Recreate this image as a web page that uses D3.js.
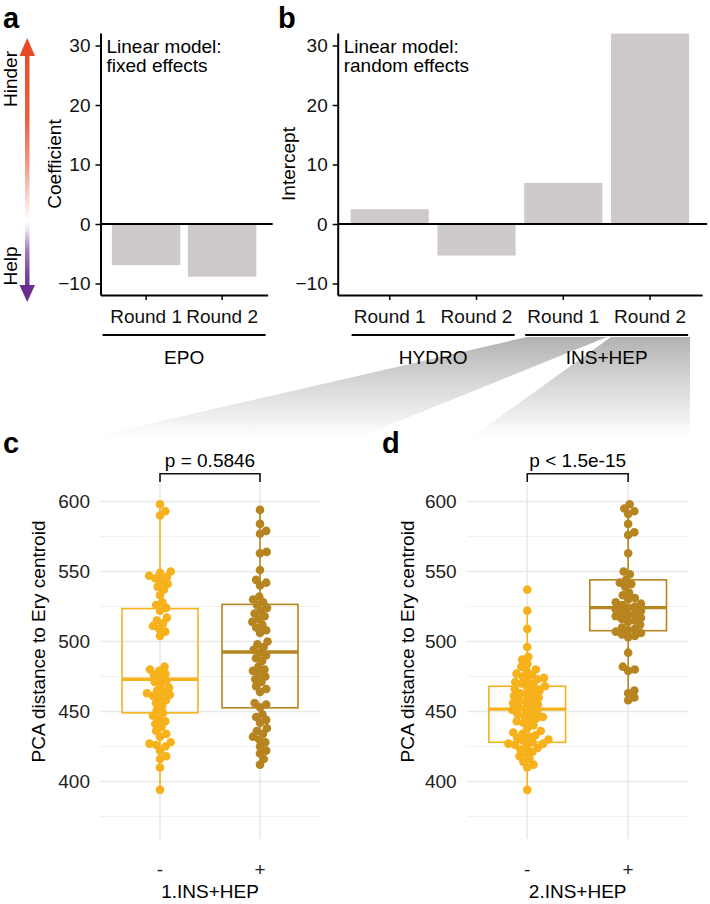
<!DOCTYPE html>
<html><head><meta charset="utf-8">
<script src="https://cdn.jsdelivr.net/npm/d3@7"></script>
<style>body{margin:0;background:#fff}svg{display:block}</style>
</head><body>
<script>
// ---------- DATA ----------
const aGroup = "EPO";
const aRounds = ["Round 1", "Round 2"];
const aValues = [-6.9, -8.85];

const bGroups = ["HYDRO", "HYDRO", "INS+HEP", "INS+HEP"];
const bRounds = ["Round 1", "Round 2", "Round 1", "Round 2"];
const bValues = [2.5, -5.3, 6.9, 32.0];

const barTicks = [-10, 0, 10, 20, 30];

const groupLevels = ["-", "+"];
const cMinus = [598,593,590,550,549,547,546,545,543,541,539,537,533,528,526,524,522,517,515,513,511,509,507,504,482,480,479,477,476,474,472,471,469,467,465,464,463,462,461,460,458,456,454,451,449,447,445,443,441,439,436,434,432,428,427,426,425,422,418,416,410,394];
const cPlus = [594,584,579,577,564,563,551,544,542,540,532,530,528,526,524,522,520,518,516,514,512,510,508,506,500,498,496,494,492,490,488,486,482,480,479,477,475,473,471,468,466,464,456,455,453,448,446,444,442,438,436,434,432,430,428,425,422,420,416,412];
const dMinus = [537,522,509,496,489,487,484,482,480,479,477,476,475,474,473,472,471,470,469,468,467,466,465,464,463,462,461,460,459,458,457,456,455,454,453,452,451,450,449,448,447,446,445,444,443,442,440,438,436,435,434,433,432,431,430,429,428,427,427,426,425,424,423,421,420,418,416,414,412,410,394];
const dPlus = [598,595,593,591,584,578,576,563,550,548,544,542,541,539,535,533,531,530,528,527,526,525,524,523,522,521,520,519,518,517,516,515,514,512,510,509,508,507,506,505,504,503,492,482,480,479,465,463,460,458];
// box stats: [whiskerLow, q1, median, q3, whiskerHigh]
const cBoxMinus = [394, 449, 473, 523.5, 598];
const cBoxPlus  = [412, 452.6, 492.5, 526.5, 594];
const dBoxMinus = [394, 428, 451.7, 468, 522];
const dBoxPlus  = [458, 507.7, 524.2, 544, 598];
const pcaMajor = [400, 450, 500, 550, 600];
const pcaMinor = [375, 425, 475, 525, 575];
const cPText = "p = 0.5846";
const dPText = "p < 1.5e-15";

// ---------- SETUP ----------
const FONT = "'Liberation Sans', Arial, Helvetica, sans-serif";
const FS = 19;
const colMinus = "#F6B11B", colPlus = "#B6851F";
const barCol = "#CDCAC9";

const svg = d3.select("body").append("svg").attr("width", 710).attr("height", 904)
  .style("font-family", FONT);
const defs = svg.append("defs");

const wg = defs.append("linearGradient").attr("id", "wedge").attr("gradientUnits", "userSpaceOnUse")
  .attr("x1", 0).attr("y1", 337).attr("x2", 0).attr("y2", 445);
wg.append("stop").attr("offset", 0).attr("stop-color", "#b2b2b2");
wg.append("stop").attr("offset", 0.45).attr("stop-color", "#d9d9d9");
wg.append("stop").attr("offset", 0.8).attr("stop-color", "#f4f4f4");
wg.append("stop").attr("offset", 1).attr("stop-color", "#ffffff").attr("stop-opacity", 0);

const ag = defs.append("linearGradient").attr("id", "arrowg").attr("gradientUnits", "userSpaceOnUse")
  .attr("x1", 0).attr("y1", 38).attr("x2", 0).attr("y2", 302);
[[0, "#E64A27"], [0.3, "#EA5F3E"], [0.5, "#F1A28F"], [0.64, "#FBE6E1"], [0.69, "#ffffff"], [0.72, "#F2ECF6"], [0.8, "#A57FC1"], [0.9, "#7A3F9C"], [1, "#6A2D8E"]]
  .forEach(([o, c]) => ag.append("stop").attr("offset", o).attr("stop-color", c));

const wedges = [
  [[527, 337], [607, 337], [320, 453], [100, 435]],
  [[611, 337], [690, 337], [690, 453], [466, 441]]
];
svg.append("g").selectAll("path").data(wedges).join("path")
  .attr("d", d => "M" + d.map(p => p.join(",")).join("L") + "Z")
  .attr("fill", "url(#wedge)");

// ---------- LEFT ARROW ----------
const arrow = svg.append("g");
arrow.append("rect").attr("x", 25).attr("y", 50).attr("width", 4.5).attr("height", 240).attr("fill", "url(#arrowg)");
arrow.append("path").attr("d", "M27.2,38 L19.5,56 L35,56 Z").attr("fill", "#E64A27");
arrow.append("path").attr("d", "M27.2,302 L19.5,285 L35,285 Z").attr("fill", "#6A2D8E");
svg.append("text").attr("transform", "translate(16.6,79) rotate(-90)").attr("text-anchor", "middle")
  .attr("font-size", FS).text("Hinder");
svg.append("text").attr("transform", "translate(16.6,266) rotate(-90)").attr("text-anchor", "middle")
  .attr("font-size", FS).text("Help");

// ---------- BAR PANELS ----------
const yBar = d3.scaleLinear().domain([-11.93, 32.1]).range([295, 33]);

function barPanel(axisX, xEnd, keys, labels, values, title1, title2, ylab, ylabX) {
  const g = svg.append("g");
  const x = d3.scaleBand().domain(keys).range([axisX, xEnd]).paddingInner(0.1).paddingOuter(0.15);
  g.selectAll("rect").data(keys).join("rect")
    .attr("x", k => x(k)).attr("width", x.bandwidth())
    .attr("y", (k, i) => yBar(Math.max(0, values[i])))
    .attr("height", (k, i) => Math.abs(yBar(values[i]) - yBar(0)))
    .attr("fill", barCol);
  g.append("line").attr("x1", axisX).attr("x2", xEnd + 5).attr("y1", yBar(0)).attr("y2", yBar(0))
    .attr("stroke", "#000").attr("stroke-width", 2);
  const ya = g.append("g").attr("transform", `translate(${axisX},0)`)
    .call(d3.axisLeft(yBar).tickValues(barTicks).tickSize(5).tickPadding(5).tickSizeOuter(0)
      .tickFormat(d => d < 0 ? "\u2212" + Math.abs(d) : d));
  const xa = g.append("g").attr("transform", `translate(0,295)`)
    .call(d3.axisBottom(x).tickSize(5).tickPadding(10).tickSizeOuter(0).tickFormat((k, i) => labels[i]));
  [ya, xa].forEach(a => {
    a.select(".domain").attr("stroke-width", 2);
    a.selectAll(".tick line").attr("stroke-width", 1.5);
    a.selectAll("text").attr("font-size", FS).attr("font-family", FONT).attr("fill", "#111");
  });
  g.append("text").attr("x", axisX + 6).attr("y", 52.7).attr("font-size", FS).text(title1);
  g.append("text").attr("x", axisX + 6).attr("y", 71.7).attr("font-size", FS).text(title2);
  g.append("text").attr("transform", `translate(${ylabX},164) rotate(-90)`).attr("text-anchor", "middle")
    .attr("font-size", FS).text(ylab);
  return x;
}

const aKeys = aRounds.map(r => aGroup + "|" + r);
const xa = barPanel(100.5, 267.7, aKeys, aRounds, aValues, "Linear model:", "fixed effects", "Coefficient", 60.6);
const bKeys = bRounds.map((r, i) => bGroups[i] + "|" + r);
const xb = barPanel(337.7, 702.1, bKeys, bRounds, bValues, "Linear model:", "random effects", "Intercept", 295.3);

function groupLine(x, keys, name) {
  const c = (x(keys[0]) + x(keys[keys.length - 1]) + x.bandwidth()) / 2;
  svg.append("line").attr("x1", c - 81.5).attr("x2", c + 81.5).attr("y1", 335).attr("y2", 335)
    .attr("stroke", "#000").attr("stroke-width", 2);
  svg.append("text").attr("x", c).attr("y", 363.5).attr("text-anchor", "middle").attr("font-size", FS).text(name);
}
groupLine(xa, aKeys, aGroup);
const uniqB = Array.from(new Set(bGroups));
uniqB.forEach(gname => groupLine(xb, bKeys.filter((k, i) => bGroups[i] === gname), gname));

// ---------- PCA PANELS ----------
const yP = d3.scaleLinear().domain([358.9, 613.2]).range([839, 483]);

function swarm(values, cx, D) {
  const pts = values.map(v => ({ v, y: yP(v) })).sort((a, b) => a.v - b.v);
  const placed = [];
  pts.forEach(p => {
    const cand = [0];
    placed.forEach(q => {
      const dy = Math.abs(p.y - q.y);
      if (dy < D) { const dx = Math.sqrt(D * D - dy * dy); cand.push(q.dx + dx, q.dx - dx); }
    });
    cand.sort((a, b) => Math.abs(a) - Math.abs(b));
    let best = cand[cand.length - 1];
    for (const c of cand) {
      if (placed.every(q => (q.dx - c) ** 2 + (q.y - p.y) ** 2 >= D * D - 0.01)) { best = c; break; }
    }
    p.dx = best;
    placed.push(p);
  });
  return placed.map(p => ({ x: cx + p.dx, y: p.y }));
}

function pcaPanel(x0, x1, series, boxes, pText, xTitle, tickRight, ylabX) {
  const g = svg.append("g");
  const x = d3.scalePoint().domain(groupLevels).range([x0, x1]).padding(0.6);
  const step = x.step();
  g.selectAll(".mi").data(pcaMinor).join("line")
    .attr("x1", x0).attr("x2", x1).attr("y1", d => yP(d)).attr("y2", d => yP(d))
    .attr("stroke", "#f1f1f1").attr("stroke-width", 1);
  g.selectAll(".ma").data(pcaMajor).join("line")
    .attr("x1", x0).attr("x2", x1).attr("y1", d => yP(d)).attr("y2", d => yP(d))
    .attr("stroke", "#e9e9e9").attr("stroke-width", 1.6);
  g.selectAll(".vg").data(groupLevels).join("line")
    .attr("x1", d => x(d)).attr("x2", d => x(d)).attr("y1", yP.range()[1]).attr("y2", yP.range()[0])
    .attr("stroke", "#e9e9e9").attr("stroke-width", 1.6);
  g.selectAll(".yt").data(pcaMajor).join("text")
    .attr("x", tickRight).attr("y", d => yP(d)).attr("dy", "0.35em").attr("text-anchor", "end")
    .attr("font-size", FS).attr("fill", "#222").text(d => d);
  const cols = [colMinus, colPlus];
  groupLevels.forEach((lv, i) => {
    const b = boxes[i], cx = x(lv), w = 0.76 * step, col = cols[i];
    g.append("line").attr("x1", cx).attr("x2", cx).attr("y1", yP(b[0])).attr("y2", yP(b[1]))
      .attr("stroke", col).attr("stroke-width", 1.6);
    g.append("line").attr("x1", cx).attr("x2", cx).attr("y1", yP(b[3])).attr("y2", yP(b[4]))
      .attr("stroke", col).attr("stroke-width", 1.6);
    g.append("rect").attr("x", cx - w / 2).attr("width", w).attr("y", yP(b[3])).attr("height", yP(b[1]) - yP(b[3]))
      .attr("fill", "none").attr("stroke", col).attr("stroke-width", 1.6);
    g.append("line").attr("x1", cx - w / 2).attr("x2", cx + w / 2).attr("y1", yP(b[2])).attr("y2", yP(b[2]))
      .attr("stroke", col).attr("stroke-width", 3.4);
    const pts = swarm(series[i], cx, 6.8);
    g.append("g").selectAll("circle").data(pts).join("circle")
      .attr("cx", d => d.x).attr("cy", d => d.y).attr("r", 4.3).attr("fill", col);
    g.append("text").attr("x", cx).attr("y", 875.5).attr("text-anchor", "middle").attr("font-size", FS)
      .attr("fill", "#222").text(lv);
  });
  const xa0 = x(groupLevels[0]), xa1 = x(groupLevels[1]);
  g.append("path").attr("d", `M${xa0},482 L${xa0},473.8 L${xa1},473.8 L${xa1},482`)
    .attr("fill", "none").attr("stroke", "#111").attr("stroke-width", 1.6);
  g.append("text").attr("x", (xa0 + xa1) / 2).attr("y", 466.7).attr("text-anchor", "middle")
    .attr("font-size", FS).text(pText);
  g.append("text").attr("x", (x0 + x1) / 2).attr("y", 898).attr("text-anchor", "middle")
    .attr("font-size", FS).text(xTitle);
  g.append("text").attr("transform", `translate(${ylabX},${(yP(400) + yP(600)) / 2}) rotate(-90)`)
    .attr("text-anchor", "middle").attr("font-size", FS).text("PCA distance to Ery centroid");
}

pcaPanel(100, 320, [cMinus, cPlus], [cBoxMinus, cBoxPlus], cPText, "1.INS+HEP", 90, 45.3);
pcaPanel(466.7, 688.7, [dMinus, dPlus], [dBoxMinus, dBoxPlus], dPText, "2.INS+HEP", 456.7, 413.6);

// ---------- PANEL LETTERS ----------
[["a", 3, 28], ["b", 278, 28], ["c", 3, 453], ["d", 382, 453]].forEach(([t, x, y]) =>
  svg.append("text").attr("x", x).attr("y", y).attr("font-size", 29).attr("font-weight", "bold").text(t));
</script>
</body></html>
